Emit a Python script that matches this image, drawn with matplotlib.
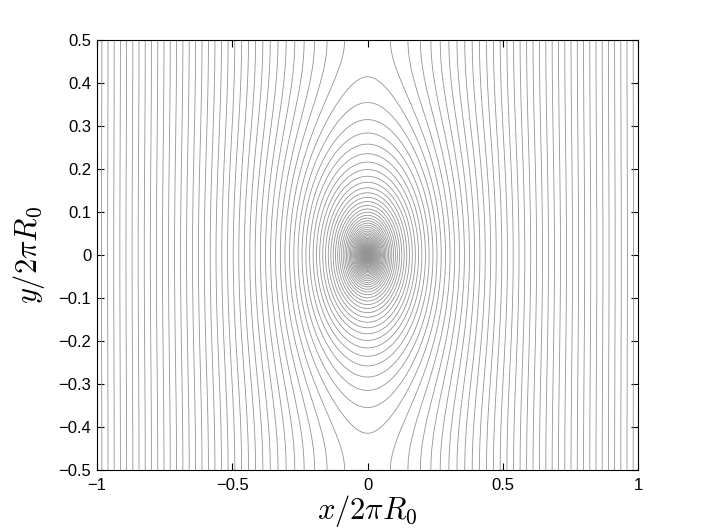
import matplotlib
matplotlib.use("Agg")
import matplotlib.pyplot as plt
import numpy as np

# axis ranges (in units of 2*pi*R0)
x_lim = [-1, 1]
y_lim = [-0.5, 0.5]
x_ticks = [-1, -0.5, 0, 0.5, 1]
y_ticks = [-0.5, -0.4, -0.3, -0.2, -0.1, 0, 0.1, 0.2, 0.3, 0.4, 0.5]

# contour levels of the flux function
level_anchor = 0.62   # outermost closed flux surface
level_step = 0.143
n_below = 70
n_above = 36

# flux of a current filament, periodic in y (period 2*pi*R0)
x = np.linspace(x_lim[0], x_lim[1], 1601)
y = np.linspace(y_lim[0], y_lim[1], 1201)
X, Y = np.meshgrid(x, y)
psi = np.log(np.cosh(2 * np.pi * X) - np.cos(2 * np.pi * Y) + 1e-12)
levels = level_anchor + level_step * np.arange(-n_below, n_above + 1)

plt.rcParams['font.family'] = ['Liberation Sans', 'DejaVu Sans']
plt.rcParams['mathtext.fontset'] = 'cm'

fig = plt.figure(figsize=(7.06, 5.3), dpi=100)
ax = fig.add_axes([0.1374, 0.1132, 0.7663, 0.8113])
ax.contour(X, Y, psi, levels=levels, colors='0.58', linewidths=0.6,
           linestyles='solid')

ax.set_xlim(x_lim)
ax.set_ylim(y_lim)
ax.set_xticks(x_ticks)
ax.set_yticks(y_ticks)
ax.set_xticklabels([('%g' % v).replace('-', '\u2212') for v in x_ticks])
ax.set_yticklabels([('%g' % v).replace('-', '\u2212') for v in y_ticks])
ax.tick_params(direction='in', top=True, right=True, labelsize=12, length=5, width=0.8)
ax.tick_params(axis='x', pad=6)
ax.tick_params(axis='y', pad=4)
for s in ax.spines.values():
    s.set_linewidth(0.8)

ax.set_xlabel(r'$x/2\pi R_0$', fontsize=22, labelpad=0)
ax.set_ylabel(r'$y/2\pi R_0$', fontsize=22, labelpad=8)

fig.savefig('out.png', dpi=100)
